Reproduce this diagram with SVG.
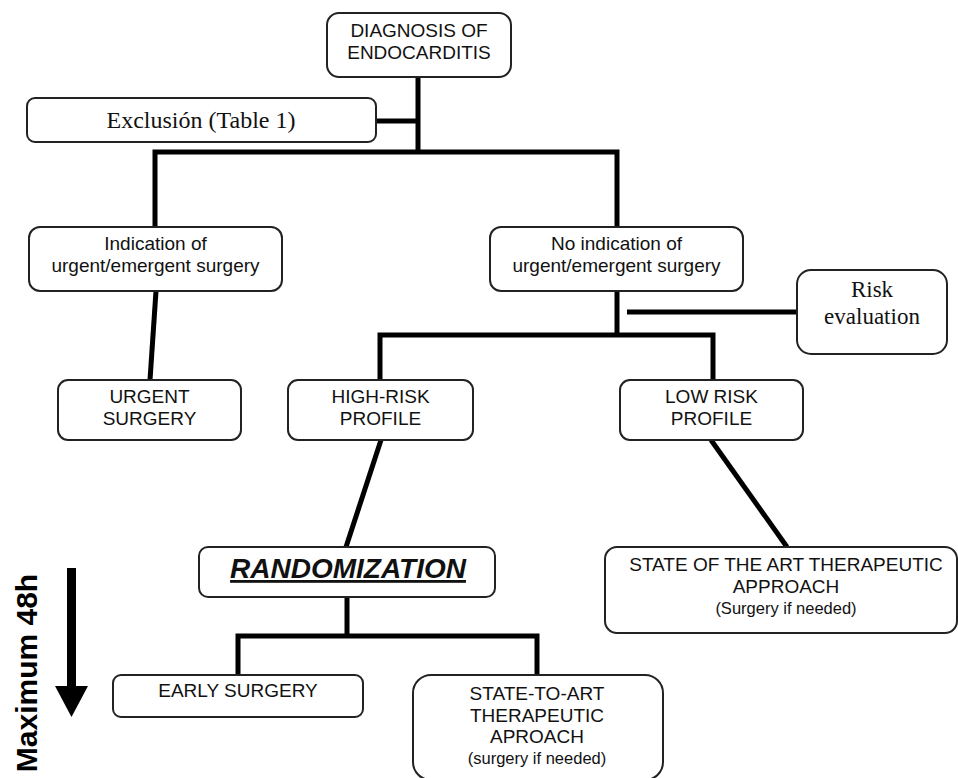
<svg xmlns="http://www.w3.org/2000/svg" width="958" height="778" viewBox="0 0 958 778">
<style>
.box{fill:#fff;stroke:#222;stroke-width:2}
.t{font-family:"Liberation Sans",Arial,sans-serif;font-size:19px;fill:#111;text-anchor:middle}
.s{font-family:"Liberation Sans",Arial,sans-serif;font-size:16.5px;fill:#111;text-anchor:middle}
.r{font-family:"Liberation Serif","Times New Roman",serif;font-size:23px;fill:#111;text-anchor:middle}
.c{stroke:#000;stroke-width:5;fill:none;stroke-linejoin:miter;stroke-linecap:butt}
</style>
<rect width="958" height="778" fill="#fff"/>
<g id="connectors">
<path class="c" d="M418,77 V152"/>
<path class="c" d="M376,121 H418"/>
<path class="c" d="M155,227 V152 H617 V227"/>
<path class="c" d="M156,291 L150,380"/>
<path class="c" d="M617,291 V335"/>
<path class="c" d="M380,380 V335 H713 V380"/>
<path class="c" d="M627,312 H797"/>
<path class="c" d="M381,440 L346,547"/>
<path class="c" d="M711,440 L787,547"/>
<path class="c" d="M347,597 V636"/>
<path class="c" d="M238,675 V636 H537 V675"/>
</g>
<g id="diagnosis">
<rect class="box" x="327" y="13" width="184" height="64" rx="12"/>
<text class="t" x="419" y="37">DIAGNOSIS OF</text>
<text class="t" x="419" y="59">ENDOCARDITIS</text>
</g>
<g id="exclusion">
<rect class="box" x="27" y="98" width="349" height="44" rx="8"/>
<text class="r" x="201" y="128" style="font-size:24px">Exclusión (Table 1)</text>
</g>
<g id="indication">
<rect class="box" x="29" y="227" width="253" height="64" rx="11"/>
<text class="t" x="155.5" y="250">Indication of</text>
<text class="t" x="155.5" y="272">urgent/emergent surgery</text>
</g>
<g id="no-indication">
<rect class="box" x="490" y="227" width="253" height="64" rx="11"/>
<text class="t" x="616.5" y="250">No indication of</text>
<text class="t" x="616.5" y="272">urgent/emergent surgery</text>
</g>
<g id="risk-evaluation">
<rect class="box" x="797" y="270" width="150" height="84" rx="14"/>
<text class="r" x="872" y="297">Risk</text>
<text class="r" x="872" y="324">evaluation</text>
</g>
<g id="urgent-surgery">
<rect class="box" x="58" y="380" width="183" height="60" rx="10"/>
<text class="t" x="149.5" y="403">URGENT</text>
<text class="t" x="149.5" y="425">SURGERY</text>
</g>
<g id="high-risk">
<rect class="box" x="288" y="380" width="185" height="60" rx="10"/>
<text class="t" x="380.5" y="403">HIGH-RISK</text>
<text class="t" x="380.5" y="425">PROFILE</text>
</g>
<g id="low-risk">
<rect class="box" x="620" y="380" width="183" height="60" rx="10"/>
<text class="t" x="711.5" y="403">LOW RISK</text>
<text class="t" x="711.5" y="425">PROFILE</text>
</g>
<g id="randomization">
<rect class="box" x="199" y="547" width="296" height="50" rx="9"/>
<text class="t" x="348" y="578" style="font-size:28px;font-weight:bold;font-style:italic;text-decoration:underline">RANDOMIZATION</text>
</g>
<g id="state-of-the-art">
<rect class="box" x="605" y="547" width="352" height="86" rx="12"/>
<text class="t" x="786" y="571">STATE OF THE ART THERAPEUTIC</text>
<text class="t" x="786" y="593">APPROACH</text>
<text class="s" x="786" y="614">(Surgery if needed)</text>
</g>
<g id="early-surgery">
<rect class="box" x="113" y="675" width="250" height="42" rx="8"/>
<text class="t" x="238" y="697">EARLY SURGERY</text>
</g>
<g id="state-to-art">
<rect class="box" x="413" y="675" width="250" height="105" rx="18"/>
<text class="t" x="537" y="700">STATE-TO-ART</text>
<text class="t" x="537" y="722">THERAPEUTIC</text>
<text class="t" x="537" y="743">APROACH</text>
<text class="s" x="537" y="764">(surgery if needed)</text>
</g>
<g id="time-arrow">
<rect x="67" y="568" width="9" height="120" fill="#000"/>
<polygon points="55,686 88,686 71.5,717" fill="#000"/>
<text transform="translate(37,673) rotate(-90)" text-anchor="middle" style="font-family:'Liberation Sans',Arial,sans-serif;font-size:30px;font-weight:bold" fill="#000">Maximum 48h</text>
</g>
</svg>
